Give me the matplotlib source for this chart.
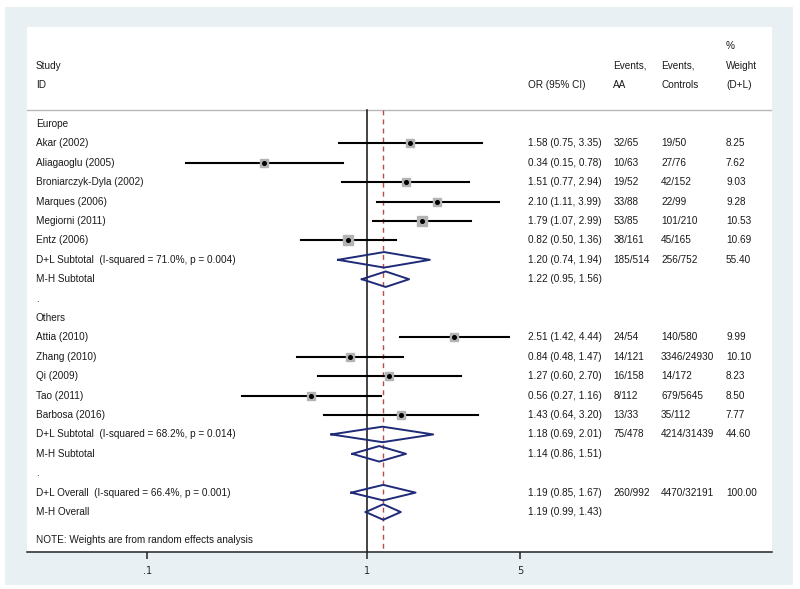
import matplotlib.pyplot as plt
import matplotlib.transforms as mtransforms
from matplotlib.patches import Rectangle

# study level data
studies = ['Akar (2002)', 'Aliagaoglu (2005)', 'Broniarczyk-Dyla (2002)', 'Marques (2006)',
           'Megiorni (2011)', 'Entz (2006)',
           'Attia (2010)', 'Zhang (2010)', 'Qi (2009)', 'Tao (2011)', 'Barbosa (2016)']
study_rows = [1, 2, 3, 4, 5, 6, 11, 12, 13, 14, 15]
odds = [1.58, 0.34, 1.51, 2.10, 1.79, 0.82, 2.51, 0.84, 1.27, 0.56, 1.43]
lower = [0.75, 0.15, 0.77, 1.11, 1.07, 0.50, 1.42, 0.48, 0.60, 0.27, 0.64]
upper = [3.35, 0.78, 2.94, 3.99, 2.99, 1.36, 4.44, 1.47, 2.70, 1.16, 3.20]
events_aa = ['32/65', '10/63', '19/52', '33/88', '53/85', '38/161',
             '24/54', '14/121', '16/158', '8/112', '13/33']
events_ctrl = ['19/50', '27/76', '42/152', '22/99', '101/210', '45/165',
               '140/580', '3346/24930', '14/172', '679/5645', '35/112']
weights = [8.25, 7.62, 9.03, 9.28, 10.53, 10.69, 9.99, 10.10, 8.23, 8.50, 7.77]

# pooled estimates
pooled_labels = ['D+L Subtotal  (I-squared = 71.0%, p = 0.004)', 'M-H Subtotal',
                 'D+L Subtotal  (I-squared = 68.2%, p = 0.014)', 'M-H Subtotal',
                 'D+L Overall  (I-squared = 66.4%, p = 0.001)', 'M-H Overall']
pooled_rows = [7, 8, 16, 17, 19, 20]
pooled_or = [1.20, 1.22, 1.18, 1.14, 1.19, 1.19]
pooled_lo = [0.74, 0.95, 0.69, 0.86, 0.85, 0.99]
pooled_hi = [1.94, 1.56, 2.01, 1.51, 1.67, 1.43]
pooled_aa = ['185/514', '', '75/478', '', '260/992', '']
pooled_ctrl = ['256/752', '', '4214/31439', '', '4470/32191', '']
pooled_wt = ['55.40', '', '44.60', '', '100.00', '']

group_labels = ['Europe', '.', 'Others', '.']
group_rows = [0, 9, 10, 18]

xticks = [0.1, 1, 5]
xtick_labels = ['.1', '1', '5']

W, H = 800, 589
fig = plt.figure(figsize=(8, 5.89), dpi=100)
bg = Rectangle((5 / W, 1 - 585 / H), 788 / W, 578 / H,
               transform=fig.transFigure, facecolor='#e8f0f3', edgecolor='none')
bg.set_zorder(-10)
fig.add_artist(bg)

ax = fig.add_axes([27 / W, 1 - 552 / H, 745 / W, 525 / H])
ax.set_zorder(1)
ax.set_facecolor('white')
ax.set_xscale('log')
px0, decade = 366.7, 219.4
ax.set_xlim(10 ** ((27 - px0) / decade), 10 ** ((772 - px0) / decade))
ax.set_ylim(22.06, -5.0)

for s in ['top', 'left', 'right']:
    ax.spines[s].set_visible(False)
ax.spines['bottom'].set_color('#222222')
ax.spines['bottom'].set_linewidth(1.1)
ax.set_yticks([])
ax.set_xticks(xticks)
ax.set_xticklabels(xtick_labels)
ax.xaxis.set_minor_locator(plt.NullLocator())
ax.tick_params(axis='x', direction='out', length=5, width=1.1, color='#222222',
               labelsize=7, labelcolor='#262626', pad=5)

txt = dict(fontsize=7.2, color='#1a1a1a', va='center', family='Liberation Sans')
tr = mtransforms.blended_transform_factory(ax.transAxes, ax.transData)


def col(px):
    return (px - 27) / 745


x_lab, x_or, x_aa, x_ctrl, x_wt = col(36), col(527.7), col(613.3), col(661), col(726)

# header
ax.text(x_wt, -4, '%', transform=tr, **txt)
ax.text(x_lab, -3, 'Study', transform=tr, **txt)
ax.text(x_aa, -3, 'Events,', transform=tr, **txt)
ax.text(x_ctrl, -3, 'Events,', transform=tr, **txt)
ax.text(x_wt, -3, 'Weight', transform=tr, **txt)
ax.text(x_lab, -2, 'ID', transform=tr, **txt)
ax.text(x_or, -2, 'OR (95% CI)', transform=tr, **txt)
ax.text(x_aa, -2, 'AA', transform=tr, **txt)
ax.text(x_ctrl, -2, 'Controls', transform=tr, **txt)
ax.text(x_wt, -2, '(D+L)', transform=tr, **txt)
ax.axhline(-0.72, color='#b8b8b8', lw=1.0)

# reference lines
ax.plot([1, 1], [-0.72, 22.06], color='#111111', lw=1.1, zorder=2)
ax.plot([pooled_or[4]] * 2, [-0.72, 22.06], color='#c04848', lw=1.0,
        dashes=(3.5, 3), zorder=2)

for g, r in zip(group_labels, group_rows):
    ax.text(x_lab, r, g, transform=tr, **txt)

for i, r in enumerate(study_rows):
    ax.plot([lower[i], upper[i]], [r, r], color='black', lw=1.5, zorder=3)
    side = 2.0 * weights[i] ** 0.5
    ax.plot(odds[i], r, marker='s', ms=side, color='#b3b3b3', mec='#b3b3b3', zorder=4)
    ax.plot(odds[i], r, marker='o', ms=2.6, color='black', zorder=5)
    ax.text(x_lab, r, studies[i], transform=tr, **txt)
    ax.text(x_or, r, '%.2f (%.2f, %.2f)' % (odds[i], lower[i], upper[i]), transform=tr, **txt)
    ax.text(x_aa, r, events_aa[i], transform=tr, **txt)
    ax.text(x_ctrl, r, events_ctrl[i], transform=tr, **txt)
    ax.text(x_wt, r, '%.2f' % weights[i], transform=tr, **txt)

h = 0.4
for i, r in enumerate(pooled_rows):
    ax.plot([pooled_lo[i], pooled_or[i], pooled_hi[i], pooled_or[i], pooled_lo[i]],
            [r, r - h, r, r + h, r], color='#1f2a78', lw=1.4, zorder=4)
    ax.text(x_lab, r, pooled_labels[i], transform=tr, **txt)
    ax.text(x_or, r, '%.2f (%.2f, %.2f)' % (pooled_or[i], pooled_lo[i], pooled_hi[i]),
            transform=tr, **txt)
    ax.text(x_aa, r, pooled_aa[i], transform=tr, **txt)
    ax.text(x_ctrl, r, pooled_ctrl[i], transform=tr, **txt)
    ax.text(x_wt, r, pooled_wt[i], transform=tr, **txt)

ax.text(x_lab, 21.44, 'NOTE: Weights are from random effects analysis', transform=tr, **txt)

fig.savefig('out.png', dpi=100)
